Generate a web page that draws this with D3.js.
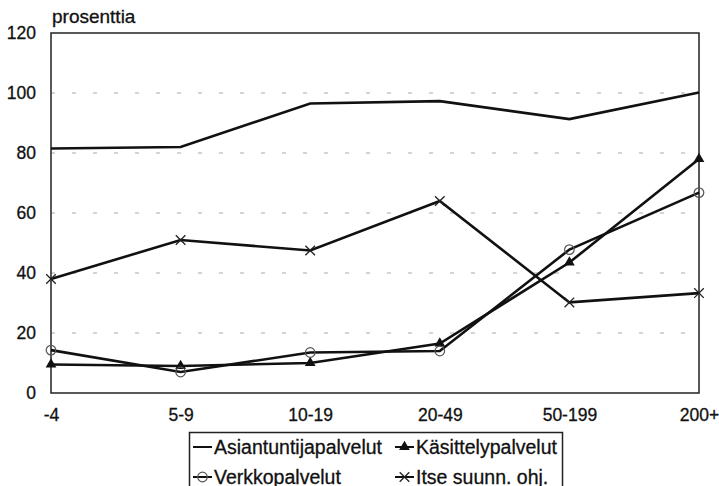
<!DOCTYPE html>
<html><head><meta charset="utf-8">
<script src="https://cdn.jsdelivr.net/npm/d3@7"></script>
<style>
body{margin:0;background:#fff;}
text{font-family:"Liberation Sans",Arial,Helvetica,sans-serif;fill:#111;stroke:#111;stroke-width:0.3px;}
</style></head>
<body><svg id="c" width="719" height="486"></svg>
<script>
const categories = ["-4","5-9","10-19","20-49","50-199","200+"];
const asiantuntija = [81.5, 82, 96.5, 97.3, 91.3, 100.2];
const kasittely = [9.5, 9, 10, 16.5, 43.5, 78];
const verkko = [14.3, 7, 13.5, 14, 47.8, 66.8];
const itse = [38, 51, 47.5, 64, 30.2, 33.3];
const yTicks = [0,20,40,60,80,100,120];
const seriesNames = ["Asiantuntijapalvelut","Käsittelypalvelut","Verkkopalvelut","Itse suunn. ohj."];

const svg = d3.select("#c");
const L=51, R=699, T=33, B=393;
const x = d3.scalePoint().domain(categories).range([L,R]);
const y = d3.scaleLinear().domain([0,120]).range([B,T]);

// grid
svg.append("g").selectAll("line").data(yTicks.filter(d=>d>0&&d<120)).join("line")
  .attr("x1",L).attr("x2",R).attr("y1",d=>y(d)).attr("y2",d=>y(d))
  .attr("stroke","#aaa").attr("stroke-width",1).attr("stroke-dasharray","4,17");

// frame
svg.append("rect").attr("x",L).attr("y",T).attr("width",R-L).attr("height",B-T)
  .attr("fill","none").attr("stroke","#222").attr("stroke-width",1.5);

// y axis
const ya = svg.append("g").attr("transform",`translate(${L},0)`)
  .call(d3.axisLeft(y).tickValues(yTicks).tickSize(0).tickPadding(15));
ya.select(".domain").remove();
ya.selectAll("text").attr("font-size",17.5).attr("font-family","Liberation Sans, Arial, sans-serif").attr("fill","#111");

// x axis
const xa = svg.append("g").attr("transform",`translate(0,${B})`)
  .call(d3.axisBottom(x).tickSize(0).tickPadding(16));
xa.select(".domain").remove();
xa.selectAll("text").attr("font-size",17.5).attr("font-family","Liberation Sans, Arial, sans-serif").attr("fill","#111");

svg.append("text").attr("x",52).attr("y",23).attr("font-size",19).text("prosenttia");

const line = d3.line().x((d,i)=>x(categories[i])).y(d=>y(d));
const all = [asiantuntija,kasittely,verkko,itse];
all.forEach(s=>{
  svg.append("path").datum(s).attr("d",line).attr("fill","none")
    .attr("stroke","#111").attr("stroke-width",2.6).attr("stroke-linejoin","miter");
});

const tri = d3.symbol().type(d3.symbolTriangle).size(50);
function drawTri(g,cx,cy){ g.append("path").attr("d",tri()).attr("transform",`translate(${cx},${cy})`).attr("fill","#111"); }
function drawCirc(g,cx,cy){ g.append("circle").attr("cx",cx).attr("cy",cy).attr("r",4.8).attr("fill","none").attr("stroke","#555").attr("stroke-width",1.2); }
function drawX(g,cx,cy){ const s=4.8; g.append("path").attr("d",`M${cx-s},${cy-s}L${cx+s},${cy+s}M${cx-s},${cy+s}L${cx+s},${cy-s}`).attr("stroke","#222").attr("stroke-width",1.3); }

const mk = svg.append("g");
kasittely.forEach((v,i)=>drawTri(mk,x(categories[i]),y(v)));
verkko.forEach((v,i)=>drawCirc(mk,x(categories[i]),y(v)));
itse.forEach((v,i)=>drawX(mk,x(categories[i]),y(v)));

// legend
const lg = svg.append("g");
lg.append("rect").attr("x",189.5).attr("y",432.5).attr("width",373).attr("height",60)
  .attr("fill","#fff").attr("stroke","#222").attr("stroke-width",1.5);
const items = [
  {name:seriesNames[0], x:193, y:447, m:null},
  {name:seriesNames[1], x:395, y:447, m:"tri"},
  {name:seriesNames[2], x:193, y:477, m:"circ"},
  {name:seriesNames[3], x:395, y:477, m:"x"}
];
items.forEach(it=>{
  lg.append("line").attr("x1",it.x).attr("x2",it.x+19).attr("y1",it.y).attr("y2",it.y).attr("stroke","#111").attr("stroke-width",2);
  const cx = it.x+9.5;
  if(it.m==="tri") drawTri(lg,cx,it.y);
  if(it.m==="circ") drawCirc(lg,cx,it.y);
  if(it.m==="x") drawX(lg,cx,it.y);
  lg.append("text").attr("x",it.x+21).attr("y",it.y+6.5).attr("font-size",19.5).text(it.name);
});
</script></body></html>
